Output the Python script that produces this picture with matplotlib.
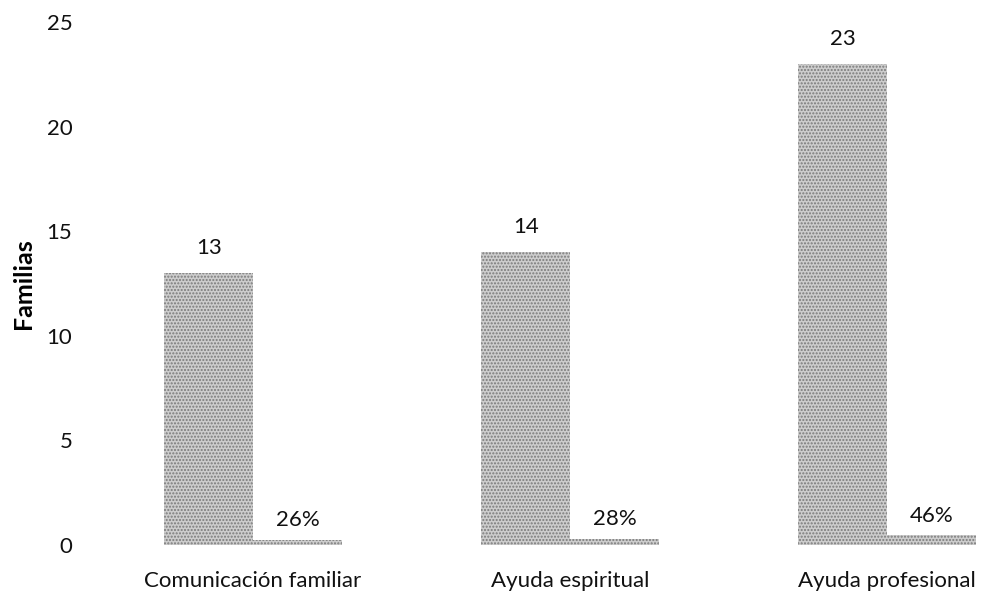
import matplotlib
matplotlib.use("Agg")
import matplotlib.pyplot as plt
import numpy as np

categories = ["Comunicación familiar", "Ayuda espiritual", "Ayuda profesional"]
familias = [13, 14, 23]
porcentaje = [0.26, 0.28, 0.46]
pct_labels = ["26%", "28%", "46%"]
yticks = [0, 5, 10, 15, 20, 25]

plt.rcParams['font.family'] = ['Lato', 'DejaVu Sans']
plt.rcParams['hatch.color'] = '#7a7a7a'
plt.rcParams['hatch.linewidth'] = 1.0

fig = plt.figure(figsize=(9.9, 5.94), dpi=100)
left = 94.5 / 990
bottom = (594 - 545) / 594
top = (594 - 22) / 594
ax = fig.add_axes([left, bottom, 1 - left, top - bottom])

x = np.arange(len(categories))
w = 0.28
b1 = ax.bar(x - w / 2, familias, w, color='#cdcdcd', edgecolor='#7a7a7a',
            hatch='.....', linewidth=0)
b2 = ax.bar(x + w / 2, porcentaje, w, color='#cdcdcd', edgecolor='#7a7a7a',
            hatch='.....', linewidth=0)

for xi, v in zip(x, familias):
    ax.annotate(str(v), (xi - w / 2, v), xytext=(0, 11), textcoords='offset points',
                ha='center', va='bottom', fontsize=16, color='#111111')
for xi, v, lab in zip(x, porcentaje, pct_labels):
    ax.annotate(lab, (xi + w / 2, v), xytext=(0, 7), textcoords='offset points',
                ha='center', va='bottom', fontsize=16, color='#111111')

ax.set_xlim(-0.5, (990 - 253) / 317)
ax.set_ylim(0, 25)
ax.set_yticks(yticks)
ax.set_xticks(x)
ax.set_xticklabels(categories)
ax.tick_params(axis='both', length=0, labelsize=16, colors='#111111')
ax.tick_params(axis='x', pad=19)
ax.tick_params(axis='y', pad=16)
for s in ax.spines.values():
    s.set_visible(False)
ax.set_ylabel("Familias", fontsize=18, fontweight='bold')
ax.yaxis.set_label_coords(-(94.5 - 35) / (990 - 94.5), 0.5)

fig.savefig("out.png", dpi=100)
